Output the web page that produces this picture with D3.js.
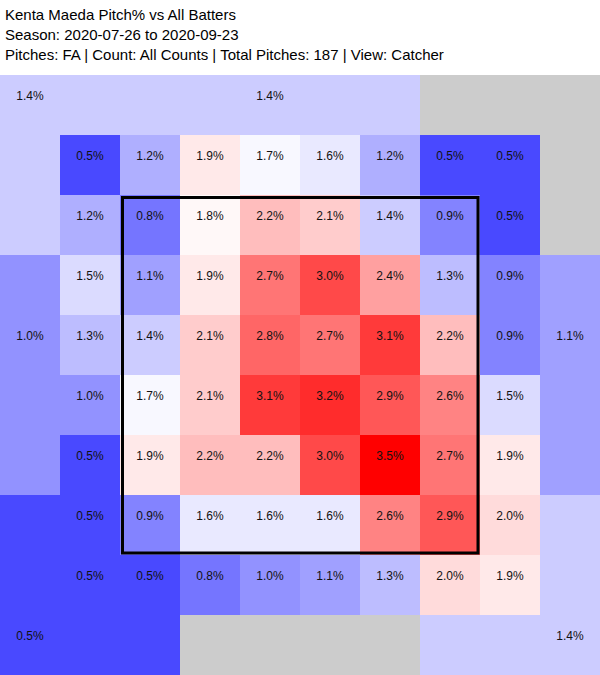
<!DOCTYPE html>
<html>
<head>
<meta charset="utf-8">
<script src="https://cdn.jsdelivr.net/npm/d3@7"></script>
<style>
  body { margin: 0; background: #fff; }
  text { font-family: Arial, "Liberation Sans", Helvetica, sans-serif; }
</style>
</head>
<body>
<div id="chart"></div>
<script>
const titleLines = [
  "Kenta Maeda Pitch% vs All Batters",
  "Season: 2020-07-26 to 2020-09-23",
  "Pitches: FA | Count: All Counts | Total Pitches: 187 | View: Catcher"
];

// inner 8x8 zone grid, top row first (catcher view)
const row1 = [0.5, 1.2, 1.9, 1.7, 1.6, 1.2, 0.5, 0.5];
const row2 = [1.2, 0.8, 1.8, 2.2, 2.1, 1.4, 0.9, 0.5];
const row3 = [1.5, 1.1, 1.9, 2.7, 3.0, 2.4, 1.3, 0.9];
const row4 = [1.3, 1.4, 2.1, 2.8, 2.7, 3.1, 2.2, 0.9];
const row5 = [1.0, 1.7, 2.1, 3.1, 3.2, 2.9, 2.6, 1.5];
const row6 = [0.5, 1.9, 2.2, 2.2, 3.0, 3.5, 2.7, 1.9];
const row7 = [0.5, 0.9, 1.6, 1.6, 1.6, 2.6, 2.9, 2.0];
const row8 = [0.5, 0.5, 0.8, 1.0, 1.1, 1.3, 2.0, 1.9];
const innerRows = [row1, row2, row3, row4, row5, row6, row7, row8];

// outer zones (null = no pitches)
const outerZones = ["TL", "TM", "TR", "L", "R", "BL", "BM", "BR"];
const outerValues = [1.4, 1.4, null, 1.0, 1.1, 0.5, null, 1.4];

const width = 600, height = 675, gridTop = 75;

const svg = d3.select("#chart").append("svg")
  .attr("width", width)
  .attr("height", height);

svg.selectAll("text.title").data(titleLines).join("text")
  .attr("class", "title")
  .attr("x", 5)
  .attr("y", (d, i) => 20 + i * 20)
  .attr("font-size", "15px")
  .attr("fill", "#000")
  .text(d => d);

// 10x10 grid: ring of outer cells around the 8x8 inner grid
const x = d3.scaleBand().domain(d3.range(10)).range([0, width]);
const y = d3.scaleBand().domain(d3.range(10)).range([gridTop, height]);

const maxVal = d3.max([...innerRows.flat(), ...outerValues.filter(v => v != null)]);
const color = d3.scaleLinear()
  .domain([0, maxVal / 2, maxVal])
  .range(["#0000ff", "#ffffff", "#ff0000"]);

// which outer zone a ring cell belongs to
function zoneOf(c, r) {
  if (r === 0) return c <= 2 ? "TL" : c <= 6 ? "TM" : "TR";
  if (r === 9) return c <= 2 ? "BL" : c <= 6 ? "BM" : "BR";
  if (c === 0) return r <= 2 ? "TL" : r <= 6 ? "L" : "BL";
  return r <= 2 ? "TR" : r <= 6 ? "R" : "BR";
}
// the ring cell that carries each outer zone's label
const labelCell = { TL: [0, 0], TM: [4, 0], TR: [8, 0], L: [0, 4], R: [9, 4], BL: [0, 9], BM: [4, 9], BR: [9, 9] };

const cells = d3.cross(d3.range(10), d3.range(10), (r, c) => {
  const inner = r >= 1 && r <= 8 && c >= 1 && c <= 8;
  if (inner) {
    const v = innerRows[r - 1][c - 1];
    return { r, c, value: v, label: true };
  }
  const z = zoneOf(c, r);
  const v = outerValues[outerZones.indexOf(z)];
  const lc = labelCell[z];
  return { r, c, value: v, label: lc[0] === c && lc[1] === r };
});

svg.append("g").selectAll("rect").data(cells).join("rect")
  .attr("x", d => x(d.c))
  .attr("y", d => y(d.r))
  .attr("width", x.bandwidth())
  .attr("height", y.bandwidth())
  .attr("fill", d => d.value == null ? "#cccccc" : color(d.value))
  .attr("shape-rendering", "crispEdges");

svg.append("g").selectAll("text")
  .data(cells.filter(d => d.label && d.value != null))
  .join("text")
  .attr("x", d => x(d.c) + x.bandwidth() / 2)
  .attr("y", d => y(d.r) + 25)
  .attr("text-anchor", "middle")
  .attr("font-size", "12px")
  .attr("fill", "#111")
  .text(d => d.value.toFixed(1) + "%");

// strike zone
svg.append("rect")
  .attr("x", x(2) + 2.5)
  .attr("y", y(2) + 2.5)
  .attr("width", x(8) - x(2) - 4.5)
  .attr("height", y(8) - y(2) - 4.5)
  .attr("fill", "none")
  .attr("stroke", "#000")
  .attr("stroke-width", 3);
</script>
</body>
</html>
